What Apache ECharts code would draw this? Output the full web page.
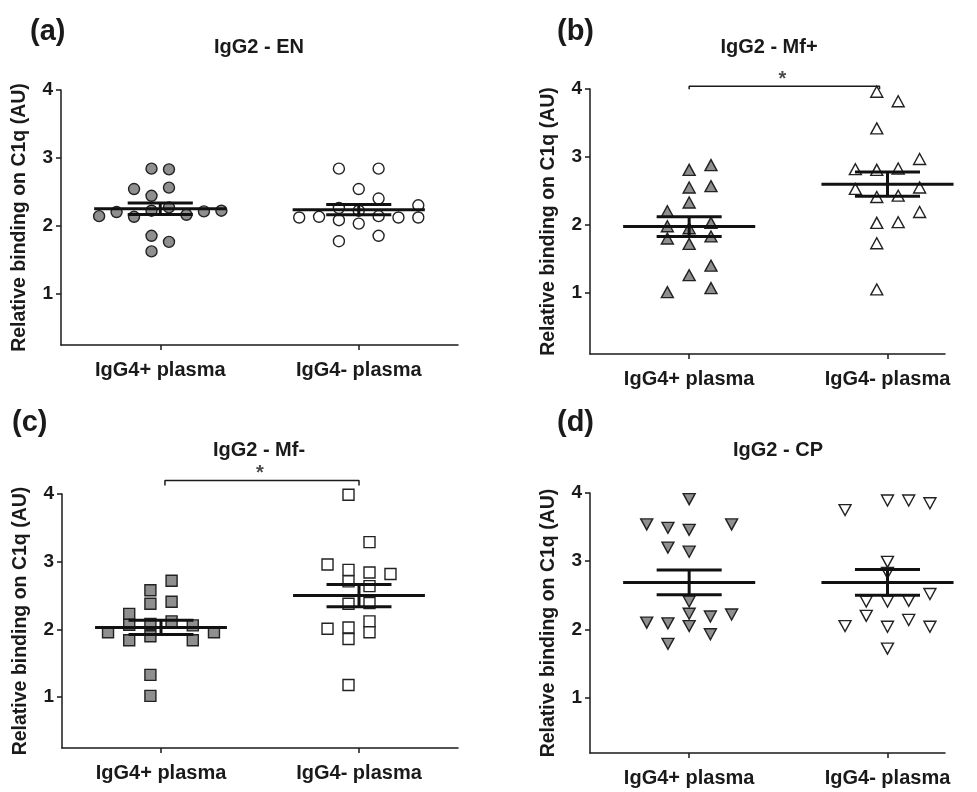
<!DOCTYPE html>
<html><head><meta charset="utf-8">
<script src="https://cdn.jsdelivr.net/npm/echarts@6/dist/echarts.min.js"></script>
<style>html,body{margin:0;padding:0;background:#fff}#c{width:977px;height:792px}</style>
</head><body><div id="c"></div>
<script>
// ---------------- data ----------------
const groupLabels = ['IgG4+ plasma', 'IgG4- plasma'];
const yTickValues = [1, 2, 3, 4];
const panelTitles = ['IgG2 - EN', 'IgG2 - Mf+', 'IgG2 - Mf-', 'IgG2 - CP'];
const panelTags = ['(a)', '(b)', '(c)', '(d)'];
const yAxisName = 'Relative binding on C1q (AU)';

// (a) IgG2 - EN
const enPosValues = [2.84, 2.83, 2.54, 2.56, 2.44, 2.27, 2.22, 2.20, 2.21, 2.22, 2.14, 2.13, 2.16, 1.85, 1.76, 1.62];
const enPosJitter = [-0.5, 0.5, -1.5, 0.5, -0.5, 0.5, -0.5, -2.5, 2.5, 3.5, -3.5, -1.5, 1.5, -0.5, 0.5, -0.5];
const enNegValues = [2.84, 2.84, 2.54, 2.40, 2.26, 2.22, 2.30, 2.12, 2.13, 2.08, 2.14, 2.12, 2.12, 2.03, 1.85, 1.77];
const enNegJitter = [-1, 1, 0, 1, -1, 0, 3, -3, -2, -1, 1, 2, 3, 0, 1, -1];
const enMean = [2.25, 2.235];
const enSem = [0.085, 0.075];

// (b) IgG2 - Mf+
const mfpPosValues = [2.81, 2.88, 2.55, 2.57, 2.33, 2.20, 1.98, 1.95, 2.03, 1.80, 1.83, 1.72, 1.40, 1.26, 1.01, 1.07];
const mfpPosJitter = [0, 1, 0, 1, 0, -1, -1, 0, 1, -1, 1, 0, 1, 0, -1, 1];
const mfpNegValues = [3.96, 3.82, 3.42, 2.97, 2.82, 2.81, 2.83, 2.53, 2.55, 2.41, 2.43, 2.19, 2.03, 2.04, 1.73, 1.05];
const mfpNegJitter = [-0.5, 0.5, -0.5, 1.5, -1.5, -0.5, 0.5, -1.5, 1.5, -0.5, 0.5, 1.5, -0.5, 0.5, -0.5, -0.5];
const mfpMean = [1.975, 2.60];
const mfpSem = [0.145, 0.18];
const mfpSignif = [1, 1.96, 4.04];   // from group, to group, bracket level

// (c) IgG2 - Mf-
const mfnPosValues = [2.72, 2.58, 2.41, 2.38, 2.23, 2.12, 2.07, 2.08, 2.06, 1.96, 1.96, 1.90, 1.84, 1.84, 1.33, 1.02];
const mfnPosJitter = [0.5, -0.5, 0.5, -0.5, -1.5, 0.5, -1.5, -0.5, 1.5, -2.5, 2.5, -0.5, -1.5, 1.5, -0.5, -0.5];
const mfnNegValues = [3.99, 3.29, 2.96, 2.88, 2.84, 2.82, 2.71, 2.64, 2.38, 2.39, 2.01, 2.12, 1.96, 2.03, 1.86, 1.18];
const mfnNegJitter = [-0.5, 0.5, -1.5, -0.5, 0.5, 1.5, -0.5, 0.5, -0.5, 0.5, -1.5, 0.5, 0.5, -0.5, -0.5, -0.5];
const mfnMean = [2.03, 2.50];
const mfnSem = [0.105, 0.165];
const mfnSignif = [1.02, 2.0, 4.2];

// (d) IgG2 - CP
const cpPosValues = [3.91, 3.54, 3.49, 3.46, 3.54, 3.20, 3.14, 2.41, 2.23, 2.19, 2.22, 2.10, 2.09, 2.05, 1.93, 1.79];
const cpPosJitter = [0, -2, -1, 0, 2, -1, 0, 0, 0, 1, 2, -2, -1, 0, 1, -1];
const cpNegValues = [3.89, 3.89, 3.85, 3.75, 2.99, 2.83, 2.52, 2.41, 2.41, 2.42, 2.20, 2.14, 2.05, 2.04, 2.04, 1.72];
const cpNegJitter = [0, 1, 2, -2, 0, 0, 2, -1, 0, 1, -1, 1, -2, 0, 2, 0];
const cpMean = [2.69, 2.69];
const cpSem = [0.18, 0.19];

// ---------------- layout / style ----------------
const FONT = '"Liberation Sans", Arial, sans-serif';
const INK = '#1a1a1a';
const GREY = '#8f8f8f';

const panels = [
  { grid: {left: 61, top: 90, width: 397, height: 255}, yMin: 0.24, xMax: 2.5,
    pos: enPosValues, posJ: enPosJitter, posStep: 0.088, neg: enNegValues, negJ: enNegJitter, negStep: 0.1,
    mean: enMean, sem: enSem, symbol: 'circle', size: 11, rotate: 0, signif: null },
  { grid: {left: 590, top: 89, width: 355, height: 265}, yMin: 0.10, xMax: 2.29,
    pos: mfpPosValues, posJ: mfpPosJitter, posStep: 0.11, neg: mfpNegValues, negJ: mfpNegJitter, negStep: 0.108,
    mean: mfpMean, sem: mfpSem, symbol: 'triangle', size: [12, 11], rotate: 0, signif: mfpSignif, tick: 0.045 },
  { grid: {left: 62, top: 494, width: 396, height: 254}, yMin: 0.25, xMax: 2.5,
    pos: mfnPosValues, posJ: mfnPosJitter, posStep: 0.107, neg: mfnNegValues, negJ: mfnNegJitter, negStep: 0.106,
    mean: mfnMean, sem: mfnSem, symbol: 'rect', size: 11, rotate: 0, signif: mfnSignif, tick: 0.075 },
  { grid: {left: 590, top: 493, width: 355, height: 260}, yMin: 0.19, xMax: 2.29,
    pos: cpPosValues, posJ: cpPosJitter, posStep: 0.107, neg: cpNegValues, negJ: cpNegJitter, negStep: 0.107,
    mean: cpMean, sem: cpSem, symbol: 'triangle', size: [12, 11], rotate: 180, signif: null }
];

const titleSpots = [[254, 32], [764, 32], [254, 435], [773, 435]];
const tagSpots = [[25, 12], [552, 12], [7, 403], [552, 403]];

const grids = [], xAxes = [], yAxes = [], series = [];
const titles = [];

panels.forEach((p, i) => {
  grids.push(Object.assign({containLabel: false}, p.grid));
  xAxes.push({
    type: 'value', gridIndex: i, min: 0.5, max: p.xMax,
    splitLine: {show: false},
    axisLine: {show: true, lineStyle: {color: INK, width: 1.5}},
    axisTick: {show: true, customValues: [1, 2], length: 5, lineStyle: {color: INK, width: 1.5}},
    axisLabel: {customValues: [1, 2], formatter: v => groupLabels[Math.round(v) - 1],
      fontFamily: FONT, fontWeight: 'bold', fontSize: 20, color: INK, margin: 15}
  });
  yAxes.push({
    type: 'value', gridIndex: i, min: p.yMin, max: 4,
    splitLine: {show: false},
    axisLine: {show: true, onZero: false, lineStyle: {color: INK, width: 1.5}},
    axisTick: {show: true, customValues: yTickValues, length: 5, lineStyle: {color: INK, width: 1.5}},
    axisLabel: {customValues: yTickValues, fontFamily: FONT, fontWeight: 'bold', fontSize: 19, color: INK, margin: 8},
    name: yAxisName, nameLocation: 'middle', nameGap: 31, nameRotate: 90,
    nameTextStyle: {fontFamily: FONT, fontWeight: 'bold', fontSize: 19.5, color: INK}
  });
  const mk = (vals, jit, step, g, fill) => ({
    type: 'scatter', xAxisIndex: i, yAxisIndex: i, z: 2,
    symbol: p.symbol, symbolSize: p.size, symbolRotate: p.rotate,
    itemStyle: {color: fill, borderColor: '#222', borderWidth: 1.4, opacity: 1},
    data: vals.map((v, k) => [g + jit[k] * step, v])
  });
  series.push(mk(p.pos, p.posJ, p.posStep, 1, GREY));
  series.push(mk(p.neg, p.negJ, p.negStep, 2, '#ffffff'));
  series.push({
    type: 'custom', xAxisIndex: i, yAxisIndex: i, z: 5, silent: true,
    data: p.mean.map((m, k) => [k + 1, m, p.sem[k]]),
    renderItem: (params, api) => {
      const x = api.value(0), m = api.value(1), s = api.value(2);
      const L = api.coord([x - 0.333, m]), R = api.coord([x + 0.333, m]);
      const U = api.coord([x, m + s]), D = api.coord([x, m - s]);
      const sl = api.coord([x - 0.164, m])[0], sr = api.coord([x + 0.164, m])[0];
      const st = {stroke: '#111', lineWidth: 3};
      return {type: 'group', children: [
        {type: 'line', shape: {x1: L[0], y1: L[1], x2: R[0], y2: R[1]}, style: st},
        {type: 'line', shape: {x1: sl, y1: U[1], x2: sr, y2: U[1]}, style: st},
        {type: 'line', shape: {x1: sl, y1: D[1], x2: sr, y2: D[1]}, style: st},
        {type: 'line', shape: {x1: U[0], y1: U[1], x2: D[0], y2: D[1]}, style: st}
      ]};
    }
  });
  if (p.signif) {
    const [a, b, lvl] = p.signif;
    series.push({
      type: 'line', xAxisIndex: i, yAxisIndex: i, z: 4, clip: false, silent: true,
      symbol: 'none', lineStyle: {color: INK, width: 1.5},
      data: [[a, lvl - p.tick], [a, lvl], [b, lvl], [b, lvl - p.tick]]
    });
    series.push({
      type: 'scatter', xAxisIndex: i, yAxisIndex: i, z: 4, clip: false, silent: true,
      symbolSize: 0, data: [[(a + b) / 2 - 0.01, lvl]],
      label: {show: true, position: 'top', distance: -3, formatter: '*',
        fontFamily: FONT, fontWeight: 'bold', fontSize: 20, color: INK}
    });
  }
  titles.push({text: panelTitles[i], left: titleSpots[i][0], top: titleSpots[i][1], textAlign: 'center',
    textStyle: {fontFamily: FONT, fontWeight: 'bold', fontSize: 20, color: INK}});
  titles.push({text: panelTags[i], left: tagSpots[i][0], top: tagSpots[i][1],
    textStyle: {fontFamily: FONT, fontWeight: 'bold', fontSize: 29, color: INK}});
});

const chart = echarts.init(document.getElementById('c'), null, {renderer: 'canvas'});
chart.setOption({
  animation: false,
  backgroundColor: '#ffffff',
  title: titles,
  grid: grids, xAxis: xAxes, yAxis: yAxes, series: series
});
</script></body></html>
